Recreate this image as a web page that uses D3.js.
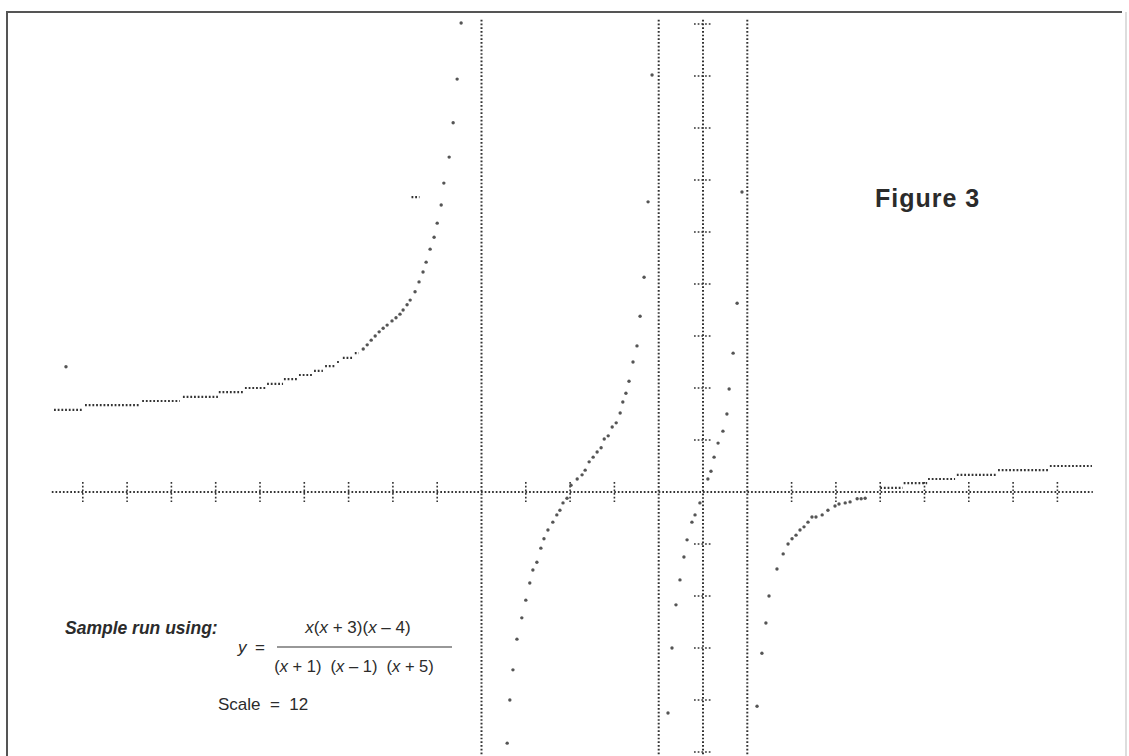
<!DOCTYPE html>
<html>
<head>
<meta charset="utf-8">
<script src="https://cdn.jsdelivr.net/npm/d3@7"></script>
<style>
  body { margin: 0; background: #fff; }
  svg { display: block; }
  text { font-family: 'Liberation Sans', Arial, Helvetica, sans-serif; fill: #2b2b2b; }
</style>
</head>
<body>
<svg width="1129" height="756"></svg>
<script>
// tick positions along the axes (units)
const xTicks = [-14, -13, -12, -11, -10, -9, -8, -7, -6, -4, -3, -2, 2, 3, 4, 5, 6, 7, 8];
const yTicks = [-5, -4, -3, -2, -1, 1, 2, 3, 4, 5, 6, 7, 8, 9];
const asymptotes = [-5, -1, 1];

// flat runs of the plotted curve: [xStart, xEnd, y]
const leftSteps = [
  [-14.65, -14.00, 1.58], [-13.95, -12.71, 1.67], [-12.66, -11.81, 1.75],
  [-11.74, -10.95, 1.83], [-10.93, -10.38, 1.92], [-10.34, -9.86, 2.00],
  [-9.84, -9.48, 2.08], [-9.46, -9.14, 2.17], [-9.12, -8.80, 2.25],
  [-8.78, -8.58, 2.33], [-8.53, -8.31, 2.42], [-8.26, -8.19, 2.50],
  [-8.13, -7.90, 2.58], [-7.86, -7.77, 2.67]
];
const rightSteps = [
  [4.00, 4.51, 0.08], [4.53, 5.06, 0.17], [5.08, 5.69, 0.25],
  [5.73, 6.64, 0.33], [6.66, 7.79, 0.42], [7.83, 8.78, 0.50]
];

// single plotted points, one list per branch: [x, y]
const branchA = [
  [-7.67, 2.75], [-7.58, 2.83], [-7.49, 2.92], [-7.40, 3.00], [-7.31, 3.08],
  [-7.22, 3.15], [-7.13, 3.21], [-7.02, 3.29], [-6.93, 3.35], [-6.84, 3.42],
  [-6.77, 3.50], [-6.68, 3.60], [-6.61, 3.69], [-6.50, 3.85], [-6.41, 4.04],
  [-6.32, 4.23], [-6.25, 4.42], [-6.16, 4.67], [-6.07, 4.90], [-6.00, 5.17],
  [-5.91, 5.52], [-5.85, 5.94], [-5.73, 6.44], [-5.64, 7.10], [-5.55, 7.94],
  [-5.46, 9.02]
];
const branchB = [
  [-4.42, -4.83], [-4.36, -4.00], [-4.29, -3.42], [-4.20, -2.83], [-4.09, -2.42],
  [-4.00, -2.08], [-3.91, -1.75], [-3.84, -1.50], [-3.75, -1.35], [-3.66, -1.08],
  [-3.59, -0.90], [-3.50, -0.73], [-3.39, -0.58], [-3.30, -0.44], [-3.23, -0.35],
  [-3.16, -0.21], [-3.07, -0.12], [-2.98, 0.13], [-2.84, 0.25], [-2.73, 0.33],
  [-2.66, 0.42], [-2.57, 0.58], [-2.48, 0.67], [-2.39, 0.77], [-2.30, 0.85],
  [-2.23, 1.02], [-2.14, 1.08], [-2.05, 1.25], [-1.96, 1.33], [-1.87, 1.52],
  [-1.81, 1.73], [-1.74, 1.90], [-1.67, 2.13], [-1.58, 2.50], [-1.49, 2.81],
  [-1.42, 3.38], [-1.33, 4.13], [-1.24, 5.58], [-1.15, 8.02]
];
const branchC = [
  [-0.79, -4.25], [-0.70, -3.00], [-0.61, -2.17], [-0.52, -1.69], [-0.43, -1.25],
  [-0.36, -0.92], [-0.25, -0.58], [-0.18, -0.44], [-0.07, -0.21], [0.11, 0.25],
  [0.18, 0.40], [0.25, 0.67], [0.34, 0.94], [0.45, 1.17], [0.54, 1.50],
  [0.59, 1.98], [0.68, 2.67], [0.77, 3.63], [0.88, 5.77]
];
const branchD = [
  [1.22, -4.12], [1.33, -3.10], [1.42, -2.52], [1.49, -2.00], [1.67, -1.48],
  [1.81, -1.19], [1.92, -1.00], [2.01, -0.90], [2.10, -0.83], [2.19, -0.73],
  [2.28, -0.67], [2.37, -0.58], [2.46, -0.48], [2.55, -0.48], [2.69, -0.44],
  [2.82, -0.35], [2.98, -0.27], [3.07, -0.23], [3.21, -0.21], [3.32, -0.19],
  [3.48, -0.13], [3.57, -0.13], [3.66, -0.12]
];
// specks on the printed page
const specks = [[-14.38, 2.41]];
const strayDashes = [[-6.58, -6.40, 5.67]];

const svg = d3.select('svg');
const ink = '#333';

const x = d3.scaleLinear().domain([-15, 9]).range([38.5, 1101.7]);
const y = d3.scaleLinear().domain([-5, 9]).range([752, 24]);

// page frame
svg.append('path')
  .attr('d', 'M7,756 L7,12 L1122,12')
  .attr('fill', 'none')
  .attr('stroke', '#555')
  .attr('stroke-width', 2);
svg.append('line')
  .attr('x1', 1126).attr('x2', 1126)
  .attr('y1', 12).attr('y2', 756)
  .attr('stroke', '#bbb')
  .attr('stroke-width', 1);

const g = svg.append('g');
const dotted = sel => sel
  .attr('stroke', ink)
  .attr('stroke-width', 2)
  .attr('stroke-dasharray', '1.7 2')
  .attr('fill', 'none');

// x axis
g.append('line')
  .attr('x1', x(-14.7)).attr('x2', x(8.8))
  .attr('y1', y(0)).attr('y2', y(0))
  .call(dotted);

g.selectAll('.xtick').data(xTicks)
  .enter().append('line')
  .attr('class', 'xtick')
  .attr('x1', d => x(d)).attr('x2', d => x(d))
  .attr('y1', y(0) - 10).attr('y2', y(0) + 10)
  .call(dotted)
  .attr('stroke-width', 1.6);

// y axis and asymptotes
g.append('line')
  .attr('x1', x(0)).attr('x2', x(0))
  .attr('y1', y(9.08)).attr('y2', 756)
  .call(dotted);

g.selectAll('.ytick').data(yTicks)
  .enter().append('line')
  .attr('class', 'ytick')
  .attr('x1', x(0) - 9).attr('x2', x(0) + 9)
  .attr('y1', d => y(d)).attr('y2', d => y(d))
  .call(dotted)
  .attr('stroke-width', 1.6);

g.selectAll('.asym').data(asymptotes)
  .enter().append('line')
  .attr('class', 'asym')
  .attr('x1', d => x(d)).attr('x2', d => x(d))
  .attr('y1', y(9.08)).attr('y2', 756)
  .call(dotted);

// the curve: flat runs then single points
g.selectAll('.step').data(leftSteps.concat(rightSteps, strayDashes))
  .enter().append('line')
  .attr('class', 'step')
  .attr('x1', d => x(d[0])).attr('x2', d => x(d[1]))
  .attr('y1', d => y(d[2])).attr('y2', d => y(d[2]))
  .attr('stroke', ink)
  .attr('stroke-width', 2.2)
  .attr('stroke-dasharray', '1.8 1.9');

g.selectAll('.pt').data(branchA.concat(branchB, branchC, branchD, specks))
  .enter().append('circle')
  .attr('class', 'pt')
  .attr('cx', d => x(d[0]))
  .attr('cy', d => y(d[1]))
  .attr('r', 1.7)
  .attr('fill', '#555');

// captions
svg.append('text')
  .attr('x', 875).attr('y', 207)
  .attr('font-size', 25)
  .attr('font-weight', 'bold')
  .attr('letter-spacing', 1)
  .text('Figure 3');

svg.append('text')
  .attr('x', 65).attr('y', 634)
  .attr('font-size', 17.5)
  .attr('font-weight', 'bold')
  .attr('font-style', 'italic')
  .text('Sample run using:');

svg.append('text')
  .attr('x', 238).attr('y', 653)
  .attr('font-size', 17)
  .attr('font-style', 'italic')
  .text('y');
svg.append('text')
  .attr('x', 255).attr('y', 653)
  .attr('font-size', 17)
  .text('=');

svg.append('line')
  .attr('x1', 277).attr('x2', 452)
  .attr('y1', 647).attr('y2', 647)
  .attr('stroke', '#333').attr('stroke-width', 1.2);

const num = svg.append('text')
  .attr('x', 358).attr('y', 633)
  .attr('font-size', 17)
  .attr('text-anchor', 'middle');
num.append('tspan').attr('font-style', 'italic').text('x');
num.append('tspan').text('(');
num.append('tspan').attr('font-style', 'italic').text('x');
num.append('tspan').text(' + 3)(');
num.append('tspan').attr('font-style', 'italic').text('x');
num.append('tspan').text(' \u2013 4)');

const den = svg.append('text')
  .attr('x', 354).attr('y', 672)
  .attr('font-size', 16.5)
  .attr('text-anchor', 'middle')
  .style('white-space', 'pre');
[['(', 'x', ' + 1)  '], ['(', 'x', ' \u2013 1)  '], ['(', 'x', ' + 5)']].forEach(p => {
  den.append('tspan').text(p[0]);
  den.append('tspan').attr('font-style', 'italic').text(p[1]);
  den.append('tspan').text(p[2]);
});

svg.append('text')
  .attr('x', 218).attr('y', 710)
  .attr('font-size', 17)
  .style('white-space', 'pre')
  .text('Scale  =  12');
</script>
</body>
</html>
